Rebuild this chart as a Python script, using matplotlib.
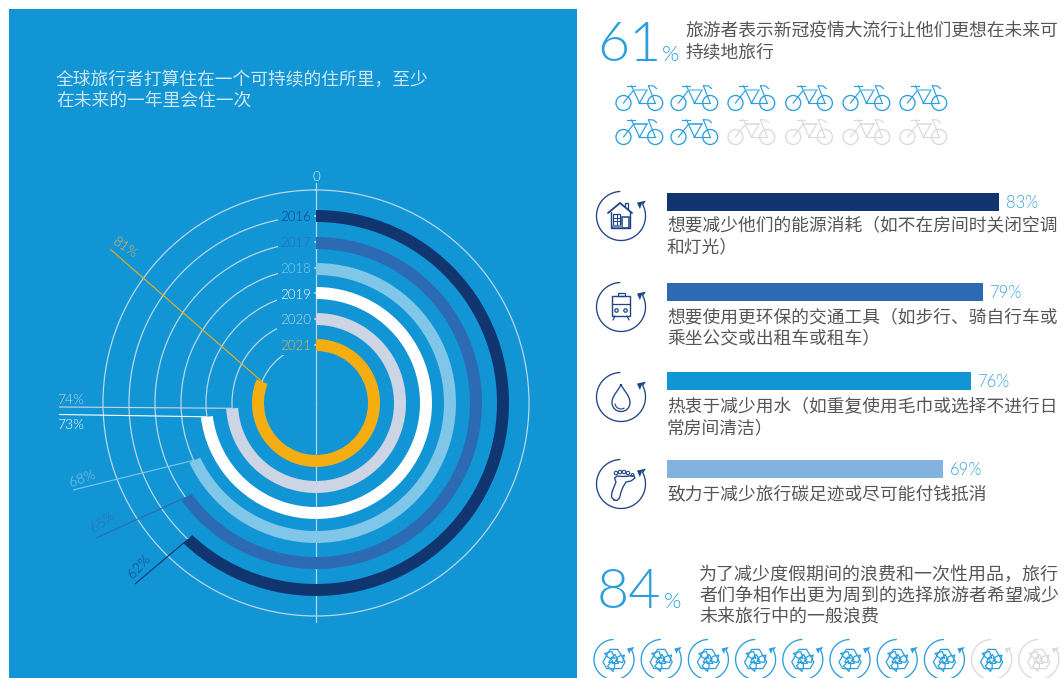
import os
import matplotlib
matplotlib.use('Agg')
import matplotlib.pyplot as plt
from matplotlib.patches import Rectangle, Polygon, Circle, PathPatch
from matplotlib.path import Path
from matplotlib import font_manager as fm
import numpy as np

plt.rcParams['font.family'] = ['Noto Sans CJK SC', 'DejaVu Sans']

years = ['2016', '2017', '2018', '2019', '2020', '2021']
year_values = [62, 65, 68, 73, 74, 81]
year_colors = ['#10356F', '#2C6BB3', '#7FC6E8', '#FFFFFF', '#CDD4E4', '#F5AE12']
year_text_colors = ['#10408A', '#2C6BB3', '#8CCBEA', '#FFFFFF', '#C5D2E4', '#D9B85C']

measures = ['想要减少他们的能源消耗（如不在房间时关闭空调\n和灯光）',
            '想要使用更环保的交通工具（如步行、骑自行车或\n乘坐公交或出租车或租车）',
            '热衷于减少用水（如重复使用毛巾或选择不进行日\n常房间清洁）',
            '致力于减少旅行碳足迹或尽可能付钱抵消']
measure_values = [83, 79, 76, 69]
measure_colors = ['#10356F', '#2C6BB3', '#1295D4', '#84B2DE']

PANEL = '#1295D4'
BLUE = '#2B9FDD'
NAVY = '#1F4485'
GREY = '#DADADA'
BODY = '#555555'


# look for an upright, normal-width light face by file name
def find_light_font():
    for family in ('Lato', 'Roboto', 'Open Sans', 'Noto Sans'):
        for f in fm.fontManager.ttflist:
            base = os.path.basename(f.fname)
            if f.name != family or not base.endswith('-Light.ttf'):
                continue
            if 'Cond' in base or 'Ital' in base:
                continue
            return fm.FontProperties(fname=f.fname)
    return fm.FontProperties(family='Lato')


num_font = find_light_font()


def num_text(x, y, s, size, **kw):
    t = ov.text(x, y, s, fontproperties=num_font, **kw)
    t.set_fontsize(size)
    return t


fig = plt.figure(figsize=(10.64, 6.78), dpi=100, facecolor='white')
fig.add_artist(Rectangle((9 / 1064, 0), 568 / 1064, 669 / 678, transform=fig.transFigure,
                         facecolor=PANEL, edgecolor='none', zorder=-5))

# radial chart, one data unit is one pixel
cx, cy, rmax = 316, 403, 220
polar = fig.add_axes([(cx - rmax) / 1064, (678 - cy - rmax) / 678, 2 * rmax / 1064, 2 * rmax / 678],
                     projection='polar', zorder=2)
polar.patch.set_visible(False)
polar.spines['polar'].set_visible(False)
polar.set_theta_zero_location('N')
polar.set_theta_direction(-1)
polar.set_rlim(0, rmax)
polar.set_rgrids([58, 84, 110, 135, 161, 187, 213], labels=[])
polar.set_thetagrids([0, 180], labels=[])
polar.grid(True, color='#B9D5E8', lw=0.9)
polar.set_axisbelow(True)
polar.tick_params(length=0)

ring_radii = [187, 160, 134, 110, 84, 58]
for val, rad, col in zip(year_values, ring_radii, year_colors):
    sweep = val / 100 * 2 * np.pi
    polar.bar(sweep / 2, 12, width=sweep, bottom=rad - 6, color=col, linewidth=0, zorder=3)

# everything else is laid out in pixels on a full-figure overlay
ov = fig.add_axes([0, 0, 1, 1], zorder=3)
ov.set_xlim(0, 1064)
ov.set_ylim(678, 0)
ov.axis('off')
ov.patch.set_visible(False)

ov.text(56, 80, '全球旅行者打算住在一个可持续的住所里，至少', color='#CFE8F5', fontsize=12.8, va='center')
ov.text(56, 101, '在未来的一年里会住一次', color='#CFE8F5', fontsize=12.8, va='center')
num_text(316.5, 177, '0', 9.5, color='#DCEFF8', ha='center', va='center')

year_label_y = [217, 243, 269, 295, 320, 346]
for yr, y, col in zip(years, year_label_y, year_text_colors):
    num_text(311, y, yr, 9.5, color=col, ha='right', va='center',
             bbox=dict(facecolor=PANEL, edgecolor='none', pad=2))

# leader lines from each ring end out to its percentage
leader_ends = [(135, 584), (96, 538), (73, 490), (59, 414.5), (59, 407), (110, 249)]
label_pos = [(139, 566), (103, 522), (82, 479), (71, 425), (71, 400), (125, 248)]
label_rot = [47, 35, 20, 0, 0, -35]
for i in range(6):
    theta = year_values[i] / 100 * 2 * np.pi
    px, py = polar.transData.transform((theta, ring_radii[i]))
    ov.plot([px, leader_ends[i][0]], [678 - py, leader_ends[i][1]], color=year_colors[i], lw=0.8,
            solid_capstyle='butt')
    num_text(label_pos[i][0], label_pos[i][1], f'{year_values[i]}%', 10, color=year_text_colors[i],
             ha='center', va='center', rotation=label_rot[i], rotation_mode='anchor')


# bicycle outline, origin at the rear wheel hub
def draw_bike(x, y, col, tube):
    for wx in (0, 31.7):
        ov.add_patch(Circle((x + wx, y), 7.5, fill=False, ec=col, lw=0.95))
    ov.add_patch(Circle((x + 16, y), 1.1, fill=True, fc=col, ec='none'))
    strokes = [[(0, 0), (10, -12.7)], [(16, 0), (8, -17)], [(16, 0), (23.3, -12.7)],
               [(25, -17), (31.7, 0)], [(3.3, -17.5), (11.7, -17.5)],
               [(25, -17.3), (30, -17), (33, -14.5)], [(16, 0), (31.7, 0)]]
    for s in strokes:
        a = np.array(s)
        ov.plot(x + a[:, 0], y + a[:, 1], color=col, lw=0.85)
    ov.plot([x + 10, x + 23.3], [y - 12.7, y - 12.7], color=tube, lw=1.1)


bike_x = [616, 671, 728, 785.7, 843, 900]
n = 0
for row_y in (103, 137):
    for bx in bike_x:
        if n < 8:
            draw_bike(bx + 7.5, row_y, BLUE, '#7CC3EA' if row_y == 103 else BLUE)
        else:
            draw_bike(bx + 7.5, row_y, GREY, GREY)
        n += 1


# open circle with an arrowhead at its end
def ring_arrow(x, y, r, col, lw=0.95):
    t = np.radians(np.linspace(93, 389, 120))
    ov.plot(x + r * np.cos(t), y - r * np.sin(t), color=col, lw=lw)
    end = np.radians(29)
    ex, ey = x + r * np.cos(end), y - r * np.sin(end)
    s = r / 24.5
    ov.add_patch(Polygon([(ex - 5.5 * s, ey - 1.5 * s), (ex + 3.5 * s, ey - 3.5 * s), (ex + 1 * s, ey + 0.5 * s),
                          (ex - 0.3 * s, ey - 1.2 * s), (ex - 2.5 * s, ey + 5 * s)],
                         closed=True, fc=col, ec='none'))


def line(pts, col=NAVY, lw=0.9):
    a = np.array(pts)
    ov.plot(a[:, 0], a[:, 1], color=col, lw=lw, solid_joinstyle='round', solid_capstyle='round')


def house_icon(x, y):
    line([(x - 13, y - 3), (x - 1, y - 13), (x + 11, y - 3)], lw=1.3)
    line([(x - 10, y - 4), (x - 10, y + 12), (x + 9, y + 12), (x + 9, y - 5)], lw=1.0)
    line([(x + 4, y - 10), (x + 4, y - 13), (x + 7, y - 13), (x + 7, y - 7)], lw=0.9)
    ov.add_patch(Rectangle((x - 8, y - 2), 7, 11, fill=False, ec=NAVY, lw=0.9))
    for k in (1, 2):
        line([(x - 8, y - 2 + k * 3.6), (x - 1, y - 2 + k * 3.6)], lw=0.7)
    line([(x - 4.5, y - 2), (x - 4.5, y + 9)], lw=0.7)
    ov.add_patch(Rectangle((x + 1, y + 1), 7, 11, fill=False, ec=NAVY, lw=1.1))
    ov.add_patch(Rectangle((x - 10, y + 9), 11, 3, fc='#6F8BB8', ec='none'))


def train_icon(x, y):
    ov.add_patch(Rectangle((x - 3, y - 14), 7, 3, fill=False, ec=NAVY, lw=0.9))
    ov.add_patch(Rectangle((x - 9, y - 11), 18, 20, fill=False, ec=NAVY, lw=1.0))
    line([(x - 9, y - 3), (x + 9, y - 3)], lw=0.9)
    for dx in (-4.5, 4.5):
        ov.add_patch(Circle((x + dx, y + 3.5), 1.7, fill=False, ec=NAVY, lw=0.9))
    line([(x - 6, y + 9), (x - 8, y + 13)])
    line([(x + 6, y + 9), (x + 8, y + 13)])


def drop_icon(x, y):
    verts = [(x, y - 13), (x - 1, y - 8), (x - 9, y - 2), (x - 9, y + 5.5),
             (x - 9, y + 11), (x - 5, y + 14.5), (x, y + 14.5),
             (x + 5, y + 14.5), (x + 9, y + 11), (x + 9, y + 5.5),
             (x + 9, y - 2), (x + 1, y - 8), (x, y - 13)]
    codes = [Path.MOVETO] + [Path.CURVE4] * 12
    ov.add_patch(PathPatch(Path(verts, codes), fill=False, ec=NAVY, lw=0.95))
    t = np.radians(np.linspace(190, 300, 30))
    ov.plot(x + 6 * np.cos(t), y + 6 - 6 * np.sin(t), color=NAVY, lw=0.8)


def foot_icon(x, y):
    sole = [(-7, 16), (-9.5, 13), (-9, 8), (-7, 3), (-5, -2), (-6.5, -6), (-4, -8), (2, -7.5),
            (9, -8), (13, -8), (14, -6), (10, -3), (5, -2), (2, 3), (0, 8), (-1.5, 14), (-4, 16.5), (-7, 16)]
    line([(x + a, y + b) for a, b in sole], lw=0.95)
    for dx, dy, r in [(-5, -11, 1.7), (-1, -12, 1.7), (3, -12, 1.7), (7, -11, 1.7), (11.5, -9, 1.4)]:
        ov.add_patch(Circle((x + dx, y + dy), r, fill=False, ec=NAVY, lw=0.8))


def recycle_icon(x, y, col):
    arrow = np.array([(-3, -8.5), (3, -8.5), (6.2, -3), (8.3, -4), (6.8, 2), (1, 0.8), (3, -0.5),
                      (0.5, -4.5), (-2, -0.5), (-6.3, -3.2)])
    for deg in (0, 120, 240):
        a = np.radians(deg)
        rot = np.array([[np.cos(a), -np.sin(a)], [np.sin(a), np.cos(a)]])
        ov.add_patch(Polygon(arrow @ rot.T * 1.25 + (x, y), closed=True, fill=False, ec=col, lw=0.9,
                             joinstyle='round'))


icon_cx = 621
for icon, iy in zip((house_icon, train_icon, drop_icon, foot_icon), (216, 307, 397, 484)):
    ring_arrow(icon_cx, iy, 24.5, NAVY)
    icon(icon_cx, iy)

# horizontal bars, 4 pixels per percentage point
bars = fig.add_axes([667 / 1064, 0, 400 / 1064, 1], zorder=2)
bars.set_xlim(0, 100)
bars.set_ylim(678, 0)
bars.axis('off')
bars.patch.set_visible(False)
bar_y = [202, 292, 381, 469]
bars.barh(bar_y, measure_values, height=18, color=measure_colors, linewidth=0)

measure_text_y = [226, 317, 407, 494]
for val, by, ty, txt in zip(measure_values, bar_y, measure_text_y, measures):
    num_text(667 + val * 4 + 7, by + 1, f'{val}%', 12, color='#3BA5E0', va='center')
    for k, part in enumerate(txt.split('\n')):
        ov.text(667, ty + k * 21, part, color=BODY, fontsize=12.75, va='center')

# big headline figures
num_text(597, 61, '61', 40, color=BLUE, va='baseline')
num_text(662, 61, '%', 16, color=BLUE, va='baseline')
ov.text(686, 31, '旅游者表示新冠疫情大流行让他们更想在未来可', color=BODY, fontsize=12.8, va='center')
ov.text(686, 52, '持续地旅行', color=BODY, fontsize=12.8, va='center')

num_text(597, 608, '84', 40, color=BLUE, va='baseline')
num_text(664, 608, '%', 16, color=BLUE, va='baseline')
waste_lines = ['为了减少度假期间的浪费和一次性用品，旅行', '者们争相作出更为周到的选择旅游者希望减少', '未来旅行中的一般浪费']
for line_y, part in zip((575, 596, 617), waste_lines):
    ov.text(699, line_y, part, color=BODY, fontsize=12.95, va='center')

for k in range(10):
    rx = 614 + k * 47.2
    ring_arrow(rx, 659.5, 20, BLUE if k < 8 else GREY, lw=0.95)
    recycle_icon(rx, 660, BLUE if k < 9 else GREY)

fig.savefig('out.png', dpi=100)
